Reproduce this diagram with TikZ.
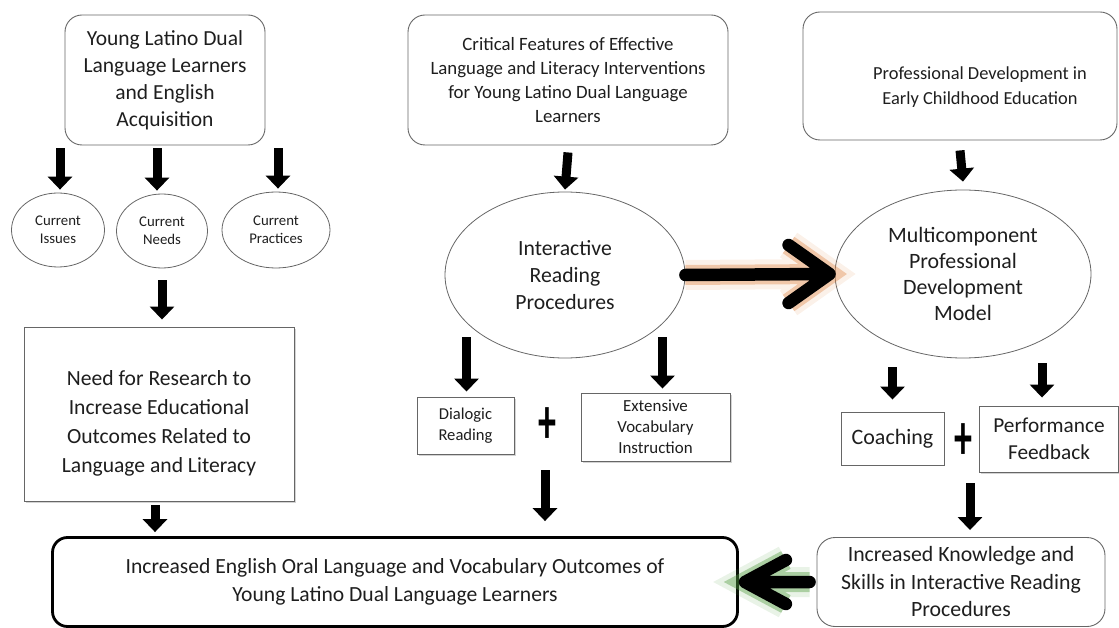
\documentclass[tikz,border=0pt]{standalone}
\usepackage{fontspec}
\setmainfont{Carlito}
\usepackage{tikz}
\usetikzlibrary{arrows.meta,shapes.geometric,shadows,calc}
\definecolor{txtgray}{HTML}{1E1E1E}
\definecolor{edgegray}{HTML}{666666}
\definecolor{glowor}{HTML}{E0894A}
\definecolor{glowgr}{HTML}{4E9A3C}
\newcommand{\setfs}[2]{\fontsize{#1}{#2}\selectfont}

\begin{document}
\begin{tikzpicture}[x=1pt, y=-1pt, text=txtgray,
  rbox/.style={draw=edgegray, line width=0.9pt, rounded corners=17pt, align=center, inner sep=0pt},
  sbox/.style={draw=edgegray, line width=0.9pt, align=center, inner sep=0pt, fill=white,
    drop shadow={shadow xshift=1.5pt, shadow yshift=-1.5pt, opacity=0.35}},
  oval/.style={draw=edgegray, line width=0.8pt, ellipse, align=center, inner sep=0pt},
  plus/.style={inner sep=0pt, text=black, font=\setfs{48}{48}\bfseries},
  blk/.style={-{Triangle[width=24pt,length=13pt]}, line width=9pt, black},
  harrow/.style={line width=12.5pt, line cap=round, line join=round, black},
  oglow/.style={preaction={draw=glowor, opacity=.12, line width=30pt},
    preaction={draw=glowor, opacity=.4, line width=20pt}},
  gglow/.style={preaction={draw=glowgr, opacity=.12, line width=30pt},
    preaction={draw=glowgr, opacity=.4, line width=20pt}}]
\useasboundingbox (0,0) rectangle (1119,628);

% left column
\node[rbox, minimum width=200pt, minimum height=130pt, font=\setfs{21.5}{27}] (ya) at (165,80)
  {Young Latino Dual\\Language Learners\\and English\\Acquisition};
\node[oval, minimum width=93pt, minimum height=74pt, font=\setfs{14.8}{18.5}] (iss) at (58,230) {Current\\Issues};
\node[oval, minimum width=91pt, minimum height=74pt, font=\setfs{14.8}{18.5}] (nds) at (162,231) {Current\\Needs};
\node[oval, minimum width=108pt, minimum height=76pt, font=\setfs{14.8}{18.5}] (prc) at (276,230) {Current\\Practices};
\node[sbox, minimum width=270pt, minimum height=174pt, font=\setfs{21.6}{29}] (res) at (159,414)
  {\rule{0pt}{33pt}Need for Research to\\Increase Educational\\Outcomes Related to\\Language and Literacy};
\node[draw=black, line width=2.8pt, rounded corners=15pt, minimum width=685pt, minimum height=89pt,
  align=center, inner sep=0pt, font=\setfs{21.6}{28}] (out) at (395,582)
  {Increased English Oral Language and Vocabulary Outcomes of\\Young Latino Dual Language Learners};

% middle column
\node[rbox, minimum width=320pt, minimum height=130pt, font=\setfs{18.8}{24}] (crit) at (568,80)
  {Critical Features of Effective\\Language and Literacy Interventions\\for Young Latino Dual Language\\Learners};
\node[oval, minimum width=240pt, minimum height=166pt, font=\setfs{21.7}{27}] (ird) at (565,275)
  {Interactive\\Reading\\Procedures};
\node[sbox, minimum width=97pt, minimum height=57pt, font=\setfs{16.6}{21.5}] (dlg) at (465.5,425.5) {Dialogic\\Reading};
\node[sbox, minimum width=149pt, minimum height=68pt, font=\setfs{16.9}{21}] (ext) at (655.5,427) {Extensive\\Vocabulary\\Instruction};
\node[plus] (p1) at (547,426) {\scalebox{0.75}[1.35]{+}};

% right column
\node[rbox, minimum width=314pt, minimum height=128pt, font=\setfs{18.4}{25}] (pd) at (960,76)
  {\rule{0pt}{35pt}\hspace*{40pt}Professional Development in\\\hspace*{40pt}Early Childhood Education};
\node[oval, minimum width=256pt, minimum height=168pt, font=\setfs{21.9}{26}] (mpd) at (963,274)
  {Multicomponent\\Professional\\Development\\Model};
\node[draw=edgegray, line width=0.9pt, minimum width=103pt, minimum height=53pt, inner sep=0pt,
  font=\setfs{22}{27}] (coa) at (892.5,438.5) {Coaching};
\node[sbox, minimum width=139pt, minimum height=66pt, font=\setfs{21.3}{27}] (prf) at (1049,439) {Performance\\Feedback};
\node[plus] (p2) at (963,442) {\scalebox{0.75}[1.35]{+}};
\node[rbox, rounded corners=18pt, minimum width=288pt, minimum height=89pt, font=\setfs{21.8}{27.5}] (kn) at (961,582)
  {Increased Knowledge and\\Skills in Interactive Reading\\Procedures};

% block arrows
\draw[blk] ($(ya.south -| iss)+(2,3)$) -- ($(iss.north)+(2,-3)$);
\draw[blk] ($(ya.south -| nds)+(-5,3)$) -- ($(nds.north)+(-5,-3)$);
\draw[blk] ($(ya.south -| prc)+(2,3)$) -- ($(prc.north)+(2,-3)$);
\draw[blk] ($(nds.south)+(0,12)$) -- ($(res.north -| nds)+(0,-7)$);
\draw[blk] ($(res.south)+(-4,4)$) -- ($(out.north -| res)+(-4,-4)$);
\draw[blk] ($(crit.south)+(0,7)$) -- ($(ird.north)+(0,-2)$);
\draw[blk] ($(ird.south -| dlg)+(1,-21)$) -- ($(dlg.north)+(1,-5)$);
\draw[blk] ($(ird.south -| ext)+(7,-21)$) -- ($(ext.north)+(7,-4)$);
\draw[blk] ($(p1)+(-2,44)$) -- ($(out.north -| p1)+(-2,-15)$);
\draw[blk] ($(pd.south)+(0,10)$) -- ($(mpd.north)+(0,-8)$);
\draw[blk] ($(mpd.south -| coa)+(0,9)$) -- ($(coa.north)+(0,-12)$);
\draw[blk] ($(mpd.south -| prf)+(-7,5)$) -- ($(prf.north)+(-7,-8)$);
\draw[blk] ($(p2)+(7,41)$) -- ($(kn.north -| p2)+(7,-7)$);

% glowing arrows
\draw[harrow, oglow] (ird.east) -- ($(mpd.west)+(-10,0)$)
  ($(mpd.west)+(-46,-29)$) -- ($(mpd.west)+(-5,0)$) -- ($(mpd.west)+(-46,29)$);
\draw[harrow, gglow] ($(kn.west)+(-7,0)$) -- ($(out.east)+(10,0)$)
  ($(out.east)+(47,-22)$) -- ($(out.east)+(6,0)$) -- ($(out.east)+(47,22)$);
\end{tikzpicture}
\end{document}
